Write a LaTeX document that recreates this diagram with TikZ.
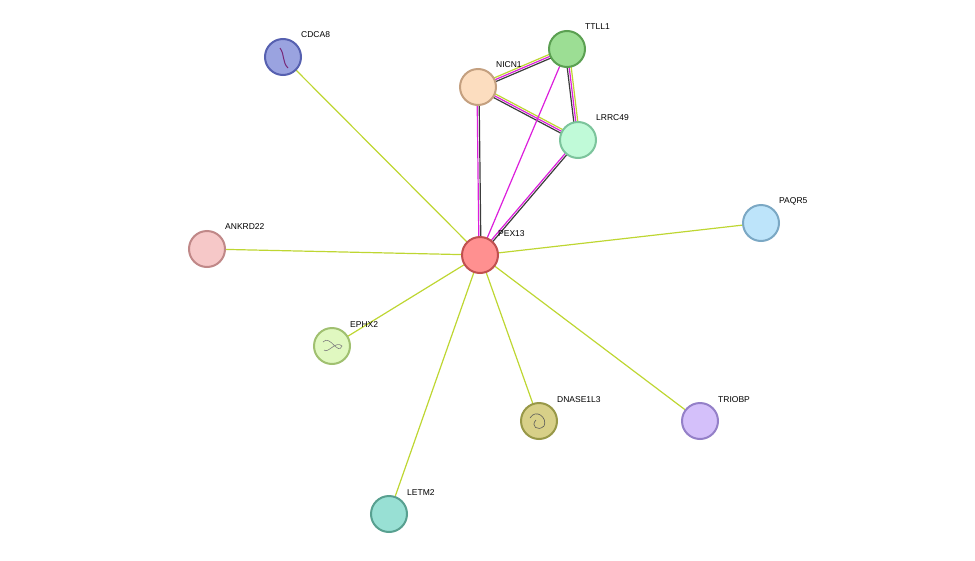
\documentclass[tikz,border=0pt]{standalone}
\usepackage{fontspec}
\setmainfont{Liberation Sans}
\usetikzlibrary{calc}
\definecolor{yg}{RGB}{190,214,50}
\definecolor{mg}{RGB}{220,30,220}
\definecolor{dk}{RGB}{60,60,60}
\definecolor{pu}{RGB}{120,40,120}
\tikzset{
  prot/.style={circle,minimum size=36pt,inner sep=0pt,line width=2pt},
  lab/.style={anchor=west,font=\fontsize{8.5pt}{10pt}\selectfont,inner sep=0pt},
  e/.style={line width=1.2pt}
}
\newcommand{\pedge}[4]{\draw[e,#4] ($(#1)!#3!90:(#2)$) -- ($(#2)!#3!-90:(#1)$);}
\begin{document}
\begin{tikzpicture}[x=1pt,y=-1pt]
\useasboundingbox (0,0) rectangle (975,560);
\coordinate (cdca8) at (283,57);
\coordinate (ttll1) at (567,49);
\coordinate (nicn1) at (478,87);
\coordinate (lrrc49) at (578,140);
\coordinate (paqr5) at (761,223);
\coordinate (ankrd22) at (207,249);
\coordinate (pex13) at (480,255);
\coordinate (ephx2) at (332,346);
\coordinate (dnase) at (539,421);
\coordinate (triobp) at (700,421);
\coordinate (letm2) at (389,514);
% edges
\foreach \t in {cdca8,ankrd22,ephx2,letm2,dnase,triobp,paqr5}{\draw[e,yg] (pex13) -- (\t);}
\pedge{nicn1}{ttll1}{-2pt}{dk}\pedge{nicn1}{ttll1}{0pt}{mg}\pedge{nicn1}{ttll1}{2pt}{yg}
\pedge{nicn1}{lrrc49}{-2pt}{dk}\pedge{nicn1}{lrrc49}{0pt}{mg}\pedge{nicn1}{lrrc49}{2pt}{yg}
\pedge{ttll1}{lrrc49}{-2pt}{dk}\pedge{ttll1}{lrrc49}{0pt}{mg}\pedge{ttll1}{lrrc49}{2pt}{yg}
\pedge{nicn1}{pex13}{1pt}{dk}\pedge{nicn1}{pex13}{-1pt}{mg}
\pedge{lrrc49}{pex13}{1pt}{dk}\pedge{lrrc49}{pex13}{-1pt}{mg}
\draw[e,mg] (ttll1) -- (pex13);
% nodes
\node[prot,fill={rgb,255:red,154;green,163;blue,224},draw={rgb,255:red,86;green,96;blue,176}] (nCDCA8) at (cdca8) {};
\node[prot,fill={rgb,255:red,156;green,222;blue,148},draw={rgb,255:red,91;green,160;blue,82}] (nTTLL1) at (ttll1) {};
\node[prot,fill={rgb,255:red,252;green,221;blue,191},draw={rgb,255:red,196;green,160;blue,128}] (nNICN1) at (nicn1) {};
\node[prot,fill={rgb,255:red,192;green,250;blue,216},draw={rgb,255:red,124;green,196;blue,156}] (nLRRC49) at (lrrc49) {};
\node[prot,fill={rgb,255:red,189;green,228;blue,250},draw={rgb,255:red,123;green,168;blue,196}] (nPAQR5) at (paqr5) {};
\node[prot,fill={rgb,255:red,246;green,200;blue,200},draw={rgb,255:red,192;green,136;blue,136}] (nANKRD22) at (ankrd22) {};
\node[prot,fill={rgb,255:red,255;green,144;blue,144},draw={rgb,255:red,192;green,80;blue,80}] (nPEX13) at (pex13) {};
\node[prot,fill={rgb,255:red,224;green,248;blue,192},draw={rgb,255:red,160;green,192;blue,112}] (nEPHX2) at (ephx2) {};
\node[prot,fill={rgb,255:red,216;green,208;blue,136},draw={rgb,255:red,152;green,152;blue,72}] (nDNASE) at (dnase) {};
\node[prot,fill={rgb,255:red,212;green,192;blue,250},draw={rgb,255:red,148;green,128;blue,200}] (nTRIOBP) at (triobp) {};
\node[prot,fill={rgb,255:red,152;green,224;blue,212},draw={rgb,255:red,88;green,160;blue,144}] (nLETM2) at (letm2) {};
% inner structure hints
\draw[line width=1pt,pu] (280,48) .. controls (285,55) and (282,62) .. (288,68);
\draw[gray,line width=0.6pt] (323,342) .. controls (330,334) and (338,356) .. (342,346) .. controls (336,340) and (328,354) .. (324,350);
\draw[gray!70!black,line width=0.6pt] (530,418) .. controls (536,408) and (548,418) .. (544,426) .. controls (538,432) and (530,426) .. (536,420);
% labels
\node[lab] at (301,35) {CDCA8};
\node[lab] at (585,27) {TTLL1};
\node[lab] at (496,65) {NICN1};
\node[lab] at (596,118) {LRRC49};
\node[lab] at (779,201) {PAQR5};
\node[lab] at (225,227) {ANKRD22};
\node[lab] at (498,234) {PEX13};
\node[lab] at (350,325) {EPHX2};
\node[lab] at (557,400) {DNASE1L3};
\node[lab] at (718,400) {TRIOBP};
\node[lab] at (407,493) {LETM2};
\end{tikzpicture}
\end{document}
